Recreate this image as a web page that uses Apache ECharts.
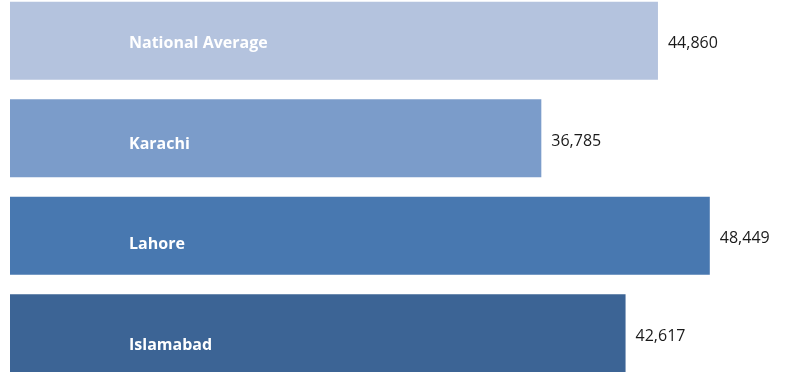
<!DOCTYPE html>
<html lang="en">
<head>
<meta charset="UTF-8">
<script src="https://cdn.jsdelivr.net/npm/echarts@6/dist/echarts.min.js"></script>
<style>
  html, body { margin: 0; padding: 0; background: #fff; }
  #chart { width: 800px; height: 372px; }
</style>
</head>
<body>
<div id="chart"></div>
<script>
var categories = ['National Average', 'Karachi', 'Lahore', 'Islamabad'];
var values = [44860, 36785, 48449, 42617];
var barColors = ['#b4c3de', '#7b9cca', '#4878b0', '#3c6495'];

var chart = echarts.init(document.getElementById('chart'));
var option = {
    animation: false,
    grid: { left: 10, top: -8, width: 722.2, height: 390, containLabel: false, outerBoundsMode: 'none' },
    xAxis: {
        type: 'value',
        min: 0,
        max: 50000,
        show: false
    },
    yAxis: {
        type: 'category',
        inverse: true,
        data: categories,
        show: false
    },
    series: [{
        type: 'bar',
        barWidth: '80%',
        data: values.map(function (v, i) {
            return { value: v, itemStyle: { color: barColors[i] } };
        }),
        label: {
            show: true,
            position: 'right',
            distance: 10,
            color: '#1a1a1a',
            fontFamily: 'Open Sans',
            fontSize: 16,
            offset: [0, 3],
            formatter: function (p) {
                return p.value.toLocaleString('en-US');
            }
        }
    }, {
        // transparent copy, only carries the white names inside the bars
        type: 'bar',
        barWidth: '80%',
        barGap: '-100%',
        silent: true,
        itemStyle: { color: 'transparent' },
        data: values.map(function (v, i) {
            return { value: v, label: { offset: [0, 3 + 3 * i] } };
        }),
        label: {
            show: true,
            position: 'insideLeft',
            distance: 119,
            color: '#ffffff',
            fontFamily: 'Open Sans',
            fontWeight: 'bold',
            fontSize: 16,
            formatter: function (p) {
                return categories[p.dataIndex];
            }
        }
    }]
};
chart.setOption(option);
</script>
</body>
</html>
